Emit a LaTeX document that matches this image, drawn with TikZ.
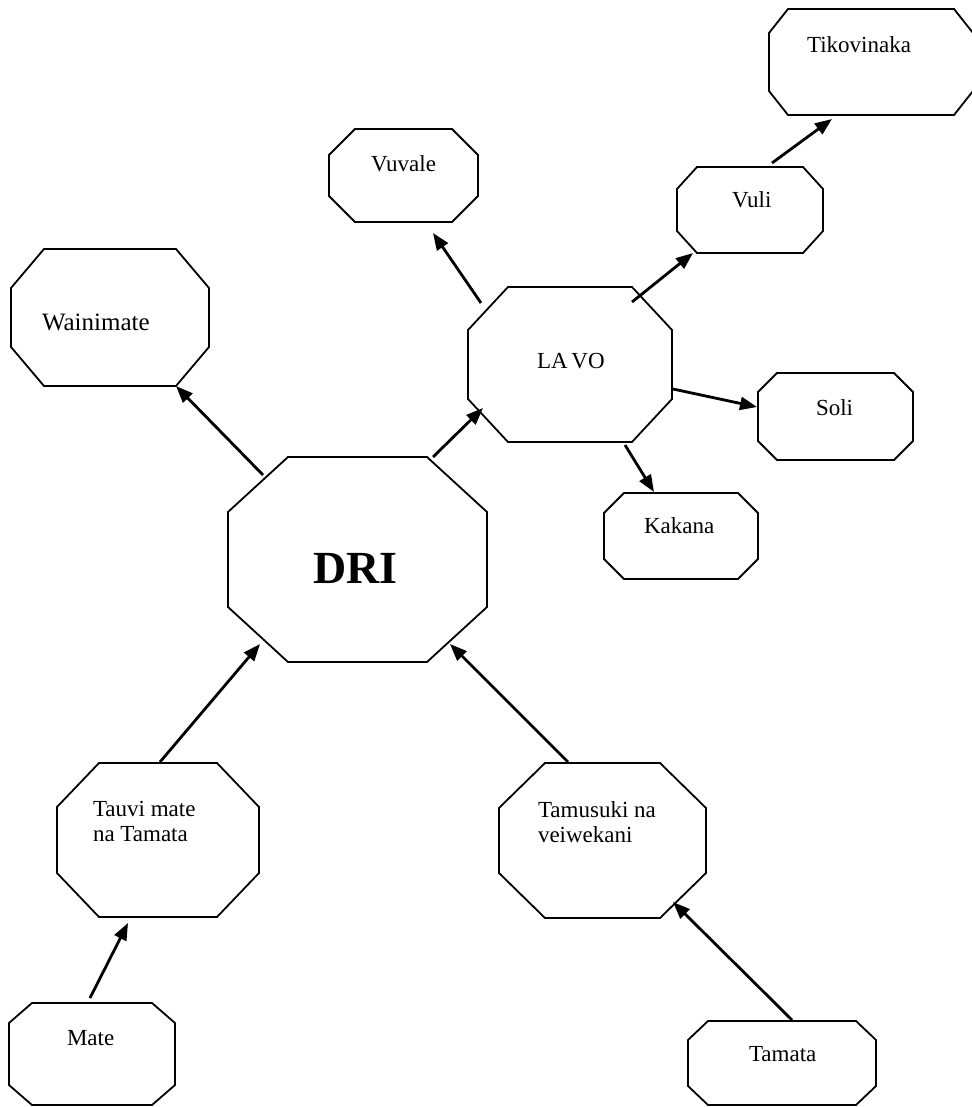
\documentclass[tikz,border=0pt]{standalone}
\usepackage{fontspec}
\setmainfont{Liberation Serif}
\usetikzlibrary{arrows.meta,calc}
\tikzset{
  boxnode/.style={rectangle,inner sep=0pt,outer sep=0pt},
  boxline/.style={line width=1.8pt,black,line join=miter},
  arr/.style={line width=2.8pt,-{Triangle[length=17pt,width=13pt]}},
  lbl/.style={inner sep=0pt,outer sep=0pt,font=\fontsize{23}{25}\selectfont},
}
\newcommand\octbox[5]{% name, center, width, height
  \node[boxnode,minimum width=#3pt,minimum height=#4pt] (#1) at (#2) {};
}
\newcommand\octdraw[3]{% name, xcut, ycut
  \draw[boxline] ([xshift=#2pt]#1.north west) -- ([xshift=-#2pt]#1.north east)
    -- ([yshift=-#3pt]#1.north east) -- ([yshift=#3pt]#1.south east)
    -- ([xshift=-#2pt]#1.south east) -- ([xshift=#2pt]#1.south west)
    -- ([yshift=#3pt]#1.south west) -- ([yshift=-#3pt]#1.north west) -- cycle;
}
\begin{document}
\begin{tikzpicture}[x=1pt,y=-1pt]
\useasboundingbox (0,0) rectangle (971,1107);
% boxes
\octbox{wain}{110,317.5}{198}{137}{} \octdraw{wain}{33}{39}
\octbox{dri}{357.5,559.5}{259}{205}{} \octdraw{dri}{60}{55}
\octbox{lavo}{570,364.5}{204}{155}{} \octdraw{lavo}{40}{43}
\octbox{vuvale}{403.5,175.5}{149}{93}{} \octdraw{vuvale}{26}{26}
\octbox{vuli}{750,210}{146}{86}{} \octdraw{vuli}{20}{22}
\octbox{tiko}{871,62}{204}{106}{} \octdraw{tiko}{19}{24}
\octbox{soli}{835.5,416.5}{155}{87}{} \octdraw{soli}{19}{19}
\octbox{kakana}{681,536}{154}{86}{} \octdraw{kakana}{20}{20}
\octbox{tauvi}{158,840}{202}{154}{} \octdraw{tauvi}{42}{44}
\octbox{mate}{92,1054}{166}{102}{} \octdraw{mate}{23}{20}
\octbox{tamusuki}{602.5,840.5}{207}{155}{} \octdraw{tamusuki}{46}{45}
\octbox{tamata}{782,1063}{188}{84}{} \octdraw{tamata}{20}{19}
% labels
\node[lbl,anchor=base west,font=\fontsize{25}{27}\selectfont] (twain) at (42,330) {Wainimate};
\node[lbl,anchor=base west,font=\fontsize{46}{50}\selectfont\bfseries] (tdri) at (313,583) {DRI};
\node[lbl,anchor=base west] (tlavo) at (537,368) {LA\,VO};
\node[lbl,anchor=base west] (tvuvale) at (371,172) {Vuvale};
\node[lbl,anchor=base west] (tvuli) at (732,208) {Vuli};
\node[lbl,anchor=base west] (ttiko) at (807,53) {Tikovinaka};
\node[lbl,anchor=base west] (tsoli) at (816,415) {Soli};
\node[lbl,anchor=base west] (tkakana) at (644,533) {Kakana};
\node[lbl,anchor=north west,align=left] (ttauvi) at (93,801.3) {Tauvi mate\\na Tamata};
\node[lbl,anchor=base west] (tmate) at (67,1045) {Mate};
\node[lbl,anchor=north west,align=left] (ttamusuki) at (538,801.3) {Tamusuki na\\veiwekani};
\node[lbl,anchor=base west] (ttamata) at (749,1061) {Tamata};
% connectors
\draw[arr] ($(dri.center)+(-94.5,-84.5)$) -- ($(wain.center)+(66,68.5)$);
\draw[arr] ($(dri.center)+(75.5,-102.5)$) -- ($(lavo.center)+(-87,43.5)$);
\draw[arr] ($(lavo.center)+(-89,-61.5)$) -- ($(vuvale.center)+(29.5,57.5)$);
\draw[arr] ($(lavo.center)+(62,-62.5)$) -- ($(vuli.center)+(-57,43)$);
\draw[arr] ($(vuli.center)+(22,-47)$) -- ($(tiko.center)+(-39,57)$);
\draw[arr] ($(lavo.center)+(103,24.5)$) -- ($(soli.center)+(-78.5,-9.5)$);
\draw[arr] ($(lavo.center)+(55,80.5)$) -- ($(kakana.center)+(-27,-44)$);
\draw[arr] ($(tauvi.center)+(2,-78)$) -- ($(dri.center)+(-97.5,84.5)$);
\draw[arr] ($(mate.center)+(-2,-56)$) -- ($(tauvi.center)+(-30,83)$);
\draw[arr] ($(tamusuki.center)+(-34.5,-78.5)$) -- ($(dri.center)+(92.5,84.5)$);
\draw[arr] ($(tamata.center)+(10,-43)$) -- ($(tamusuki.center)+(70.5,61.5)$);
\end{tikzpicture}
\end{document}
